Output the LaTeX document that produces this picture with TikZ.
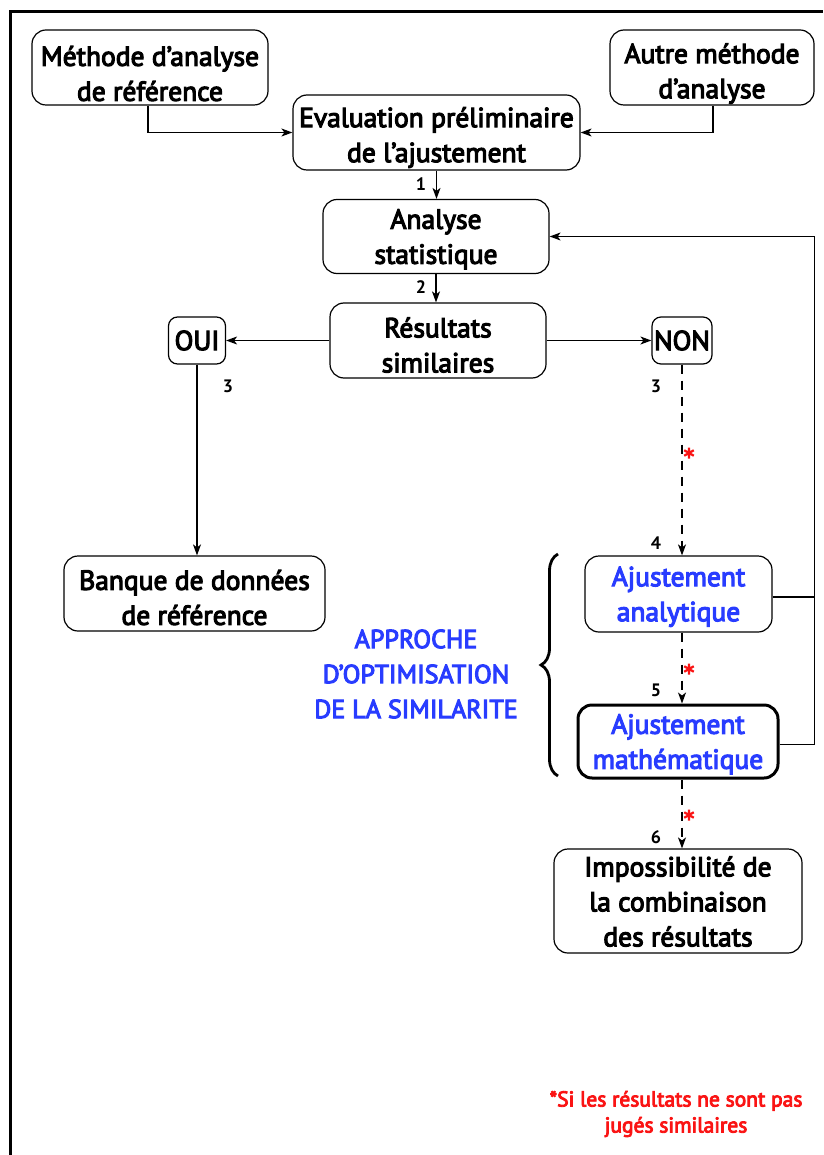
\documentclass[tikz,border=0pt]{standalone}
\usepackage{fontspec}
\setmainfont{PT Sans}
\newfontfamily\heavysans{PT Sans}[FakeBold=4]
\usetikzlibrary{arrows.meta,decorations.pathreplacing}
\definecolor{adjblue}{RGB}{40,60,255}
\definecolor{noteRed}{RGB}{250,20,20}
\newcommand{\boxfont}{\heavysans\fontsize{27.5}{35}\selectfont}
\newcommand{\capfont}{\heavysans\fontsize{26}{35}\selectfont}
\newcommand{\numfont}{\fontsize{18}{18}\selectfont\bfseries}
% tall invisible strut that lowers the text block inside a box
\newcommand{\lowertext}[1]{\rule{0pt}{#1}}
\begin{document}
\begin{tikzpicture}[x=1pt,y=-1pt,
  box/.style={draw, line width=1.2pt, rounded corners=14pt, align=center,
    inner sep=0pt, font=\boxfont},
  arr/.style={-{Stealth[length=11pt,width=8pt,inset=3pt]}, line width=1.2pt},
  dashline/.style={arr, dash pattern=on 9pt off 7pt},
  numlab/.style={font=\numfont, inner sep=0pt},
  redstar/.pic={\draw[noteRed, line width=2.2pt]
      (0,-5.5) -- (0,5.5) (-4.8,-2.75) -- (4.8,2.75) (-4.8,2.75) -- (4.8,-2.75);}]
\useasboundingbox (0,0) rectangle (823,1155);

% outer frame (left and top edges)
\draw[line width=3.5pt] (10.5,1155) -- (10.5,11.5) -- (823,11.5);

% boxes
\node[box, minimum width=236pt, minimum height=75pt] (A) at (150,67.5)
  {\lowertext{32pt}Méthode d’analyse\\de référence};
\node[box, minimum width=204pt, minimum height=75pt] (B) at (712,67.5)
  {\lowertext{32pt}Autre méthode\\d’analyse};
\node[box, minimum width=287pt, minimum height=75pt] (C) at (436.5,132.5)
  {\lowertext{30pt}Evaluation préliminaire\\de l’ajustement};
\node[box, minimum width=226pt, minimum height=74pt] (D) at (436,236.5)
  {\lowertext{25pt}Analyse\\statistique};
\node[box, minimum width=216pt, minimum height=75pt] (E) at (438,340.5)
  {\lowertext{29pt}Résultats\\similaires};
\node[box, rounded corners=9pt, minimum width=57pt, minimum height=47pt] (OUI) at (197,340.5) {OUI};
\node[box, rounded corners=9pt, minimum width=60pt, minimum height=47pt] (NON) at (682,340.5) {NON};
\node[box, minimum width=261pt, minimum height=75pt] (BQ) at (194.5,593.5)
  {\lowertext{28pt}Banque de données\\de référence};
\node[box, text=adjblue, minimum width=187pt, minimum height=76pt] (AjA) at (678.5,594)
  {\lowertext{25pt}Ajustement\\analytique};
\node[box, text=adjblue, line width=3pt, minimum width=200pt, minimum height=73pt] (AjM) at (678,741.5)
  {\lowertext{25pt}Ajustement\\mathématique};
\node[box, minimum width=248pt, minimum height=104pt] (Imp) at (678,901)
  {\lowertext{21pt}Impossibilité de\\la combinaison\\des résultats};

% bracket and its caption
\draw[decorate, decoration={brace, amplitude=17pt}, line width=2.8pt]
  (558,776) -- (558,554);
\node[align=center, text=adjblue, font=\capfont, inner sep=0pt] (approche) at (416,674)
  {APPROCHE\\D’OPTIMISATION\\DE LA SIMILARITE};

% footnote
\node[align=center, text=noteRed, font={\heavysans\fontsize{21.5}{26}\selectfont}, inner sep=0pt] (note) at (676,1114)
  {*Si les résultats ne sont pas\\jugés similaires};

% helper coordinates
\coordinate (dx) at (682,0);
\coordinate (fb) at (814.5,0);

% connectors
\draw[arr] ([xshift=-2pt]A.south) |- (C.west);
\draw[arr] ([xshift=1pt]B.south) |- (C.east);
\draw[arr] (C.south) -- (C.south |- D.north);
\draw[arr] (D.south) -- (D.south |- E.north);
\draw[arr] (E.west) -- (E.west -| OUI.east);
\draw[arr] (E.east) -- (E.east -| NON.west);
\draw[arr] (OUI.south) -- (OUI.south |- BQ.north);
\draw[dashline] (NON.south) -- (NON.south |- AjA.north);
\draw[dashline] (AjA.south -| dx) -- (AjM.north -| dx);
\draw[dashline] (AjM.south -| dx) -- (Imp.north -| dx);
\draw[line width=1.2pt] ([yshift=-3pt]AjA.east) -- ([yshift=-3pt]AjA.east -| fb);
\draw[arr] ([yshift=-3pt]AjM.east) -| (fb |- D.east) -- (D.east);

% step numbers
\node[numlab] (n1) at (421,184) {1};
\node[numlab] (n2) at (421,287) {2};
\node[numlab] (n3a) at (228,386) {3};
\node[numlab] (n3b) at (656,386) {3};
\node[numlab] (n4) at (656,543) {4};
\node[numlab] (n5) at (656,690) {5};
\node[numlab] (n6) at (656,837) {6};

% asterisks on the dashed connectors
\pic at (689,453) {redstar};
\pic at (689,669) {redstar};
\pic at (689,815) {redstar};
\end{tikzpicture}
\end{document}
